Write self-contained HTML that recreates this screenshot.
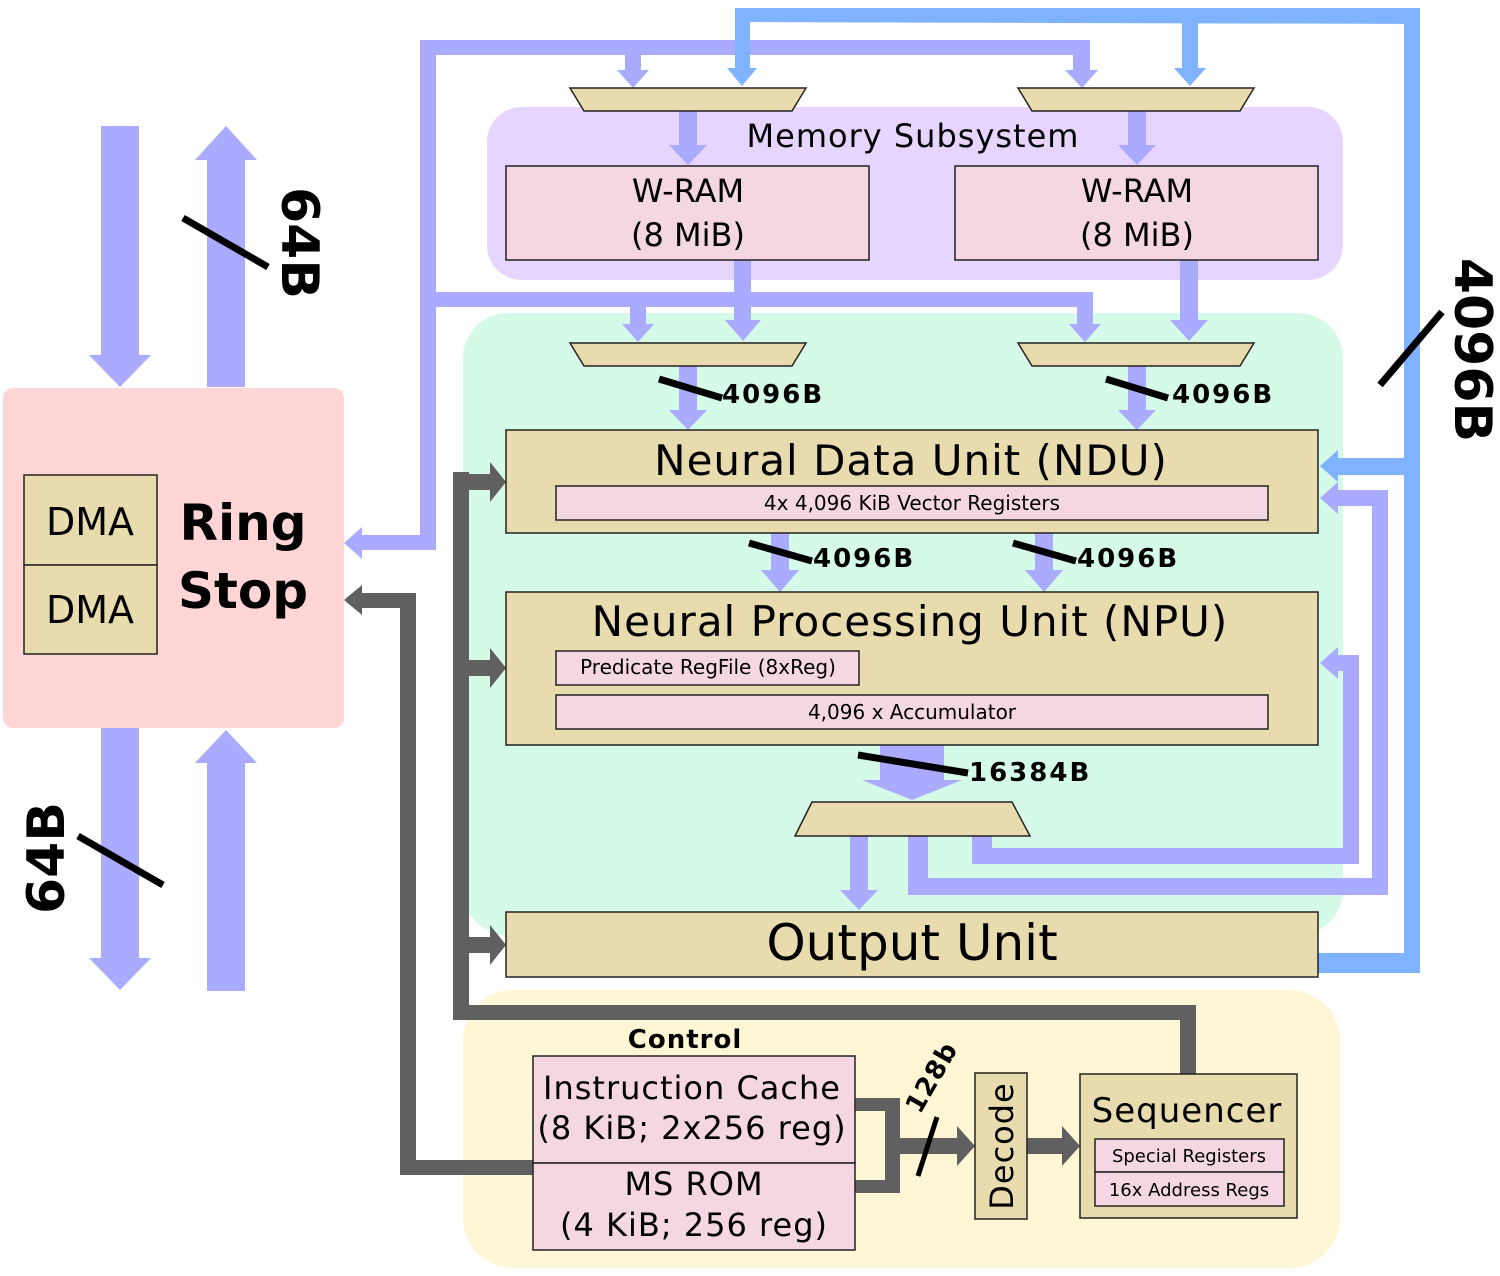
<!DOCTYPE html>
<html><head><meta charset="utf-8"><style>body{margin:0;background:#fff}svg{display:block}text{font-family:"DejaVu Sans","Liberation Sans",sans-serif}</style></head><body>
<svg width="1500" height="1276" viewBox="0 0 1500 1276" xmlns="http://www.w3.org/2000/svg">
<rect x="3" y="388" width="341" height="340" rx="10" fill="#ffd5d5"/>
<rect x="487" y="107" width="856" height="173" rx="35" fill="#e5d5ff"/>
<rect x="463" y="313" width="880" height="622" rx="45" fill="#d5fbe8"/>
<rect x="463" y="990" width="877" height="278" rx="50" fill="#fff6d5"/>

<g fill="#aaaaff">
<path d="M101 126h38v229h12l-31 32-31-32h12z"/>
<path d="M207 387v-227h-12l31-34 31 34h-12v227z"/>
<path d="M101 728h38v230h12l-31 32-31-32h12z"/>
<path d="M207 991v-228h-12l31-33 31 33h-12v228z"/>
<rect x="420" y="40" width="670" height="15"/>
<rect x="1073" y="40" width="17" height="30"/>
<rect x="420" y="40" width="16" height="510"/>
<rect x="362" y="535" width="74" height="15"/>
<path d="M362 527v32l-18-16z"/>
<path d="M625 55h16v15h8l-16 18-16-18h8z"/>
<path d="M1073 55h17v15h8l-16 18-17-18h8z"/>
<rect x="436" y="292" width="657" height="15"/>
<path d="M630 307h16v17h8l-16 18-16-18h8z"/>
<path d="M1077 307h16v17h8l-16 18-16-18h8z"/>
<path d="M679 111h18v34h10l-19 20-19-20h10z"/>
<path d="M1128 111h18v34h10l-19 20-19-20h10z"/>
<path d="M734 260h17v60h10l-18 21-18-21h9z"/>
<path d="M1180 260h18v60h10l-19 21-19-21h10z"/>
<path d="M679 366h18v44h10l-19 20-19-20h10z"/>
<path d="M1128 366h18v44h10l-19 20-19-20h10z"/>
<path d="M771 533h18v37h10l-19 22-19-22h10z"/>
<path d="M1035 533h18v37h10l-19 22-19-22h10z"/>
<path d="M880 745h64v35h18l-50 20-50-20h18z"/>
<path d="M850 836h18v54h10l-19 20-19-20h10z"/>
<path d="M908 836h20v42h444v-372h-35v-16h51v405h-480z"/>
<path d="M1338 482v32l-18-16z"/>
<path d="M972 836h20v12h351v-177h-5v-16h21v209h-387z"/>
<path d="M1338 647v32l-18-16z"/>
</g>

<g fill="#80b3ff">
<path d="M735 8h685v15z"/>
<path d="M735 8L1420 8L1420 24L735 22z"/>
<rect x="735" y="8" width="15" height="62"/>
<rect x="1404" y="8" width="16" height="965"/>
<rect x="1318" y="953" width="102" height="20"/>
<path d="M1182 20h16v48h8l-16 18-16-18h8z"/>
<path d="M727 68h30l-15 18z"/>
<rect x="1338" y="458" width="66" height="17"/>
<path d="M1338 450v32l-18-16z"/>
</g>

<g fill="#606060">
<rect x="453" y="472" width="16" height="548"/>
<path d="M453 1005h743v69h-16v-54h-727z"/>
<path d="M469 474h21v-12l16 20-16 20v-12h-21z"/>
<path d="M469 660h21v-12l16 20-16 20v-12h-21z"/>
<path d="M469 937h21v-12l16 20-16 20v-12h-21z"/>
<rect x="400" y="593" width="16" height="582"/>
<rect x="400" y="1160" width="133" height="15"/>
<rect x="362" y="593" width="54" height="15"/>
<path d="M362 585v30l-18-15z"/>
<path d="M855 1098h45v40h57v-12l18 20-18 20v-12h-57v39h-45v-13h30v-69h-30z"/>
<path d="M1027 1138h35v-12l18 20-18 20v-12h-35z"/>
</g>

<g stroke="#222" stroke-width="1.5">
<path d="M570 88h236l-14 23h-208z" fill="#e8dcaf"/>
<path d="M1018 88h236l-14 23h-208z" fill="#e8dcaf"/>
<path d="M570 343h236l-14 23h-208z" fill="#e8dcaf"/>
<path d="M1018 343h236l-14 23h-208z" fill="#e8dcaf"/>
<path d="M812 802h200l18 34h-235z" fill="#e8dcaf"/>
<rect x="24" y="475" width="133" height="90" fill="#e8dcaf"/>
<rect x="24" y="565" width="133" height="89" fill="#e8dcaf"/>
<rect x="506" y="166" width="363" height="94" fill="#f4d7e3"/>
<rect x="955" y="166" width="363" height="94" fill="#f4d7e3"/>
<rect x="506" y="430" width="812" height="103" fill="#e8dcaf"/>
<rect x="556" y="486" width="712" height="34" fill="#f4d7e3"/>
<rect x="506" y="592" width="812" height="153" fill="#e8dcaf"/>
<rect x="556" y="651" width="303" height="34" fill="#f4d7e3"/>
<rect x="556" y="695" width="712" height="34" fill="#f4d7e3"/>
<rect x="506" y="912" width="812" height="65" fill="#e8dcaf"/>
<rect x="533" y="1056" width="322" height="107" fill="#f4d7e3"/>
<rect x="533" y="1163" width="322" height="87" fill="#f4d7e3"/>
<rect x="975" y="1073" width="52" height="146" fill="#e8dcaf"/>
<rect x="1080" y="1074" width="217" height="144" fill="#e8dcaf"/>
<rect x="1095" y="1139" width="189" height="33" fill="#f4d7e3"/>
<rect x="1095" y="1172" width="189" height="34" fill="#f4d7e3"/>
</g>

<g stroke="#000" stroke-width="7">
<line x1="183" y1="218" x2="268" y2="267"/>
<line x1="78" y1="836" x2="163" y2="885"/>
<line x1="1380" y1="385" x2="1442" y2="312"/>
<line x1="659" y1="379" x2="722" y2="398"/>
<line x1="1106" y1="379" x2="1168" y2="398"/>
<line x1="749" y1="543" x2="812" y2="561"/>
<line x1="1013" y1="543" x2="1076" y2="561"/>
<line x1="858" y1="755" x2="968" y2="773"/>
<line x1="918" y1="1176" x2="937" y2="1117" stroke-width="5"/>
</g>

<g fill="#000">
<text x="90" y="535" font-size="38" text-anchor="middle">DMA</text>
<text x="90" y="623" font-size="38" text-anchor="middle">DMA</text>
<text x="243" y="540" font-size="50" font-weight="bold" text-anchor="middle">Ring</text>
<text x="243" y="608" font-size="50" font-weight="bold" text-anchor="middle">Stop</text>
<text transform="translate(282,243) rotate(90)" font-size="52" font-weight="bold" text-anchor="middle">64B</text>
<text transform="translate(64,858) rotate(-90)" font-size="52" font-weight="bold" text-anchor="middle">64B</text>
<text transform="translate(1455,350) rotate(90)" font-size="52" font-weight="bold" text-anchor="middle">4096B</text>
<text x="913" y="147" font-size="32" text-anchor="middle" letter-spacing="1">Memory Subsystem</text>
<text x="688" y="202" font-size="32" text-anchor="middle">W-RAM</text>
<text x="688" y="246" font-size="32" text-anchor="middle">(8 MiB)</text>
<text x="1137" y="202" font-size="32" text-anchor="middle">W-RAM</text>
<text x="1137" y="246" font-size="32" text-anchor="middle">(8 MiB)</text>
<g font-size="26" font-weight="bold" letter-spacing="2">
<text x="722" y="403">4096B</text>
<text x="1172" y="403">4096B</text>
<text x="813" y="567">4096B</text>
<text x="1077" y="567">4096B</text>
<text x="969" y="781">16384B</text>
</g>
<text x="911" y="475" font-size="42" text-anchor="middle" letter-spacing="1">Neural Data Unit (NDU)</text>
<text x="912" y="510" font-size="20" text-anchor="middle">4x 4,096 KiB Vector Registers</text>
<text x="910" y="636" font-size="42" text-anchor="middle" letter-spacing="1">Neural Processing Unit (NPU)</text>
<text x="708" y="674" font-size="20" text-anchor="middle">Predicate RegFile (8xReg)</text>
<text x="912" y="719" font-size="20" text-anchor="middle">4,096 x Accumulator</text>
<text x="912" y="960" font-size="50" text-anchor="middle">Output Unit</text>
<text x="685" y="1048" font-size="26" font-weight="bold" text-anchor="middle" letter-spacing="1">Control</text>
<text x="692" y="1099" font-size="32" text-anchor="middle" letter-spacing="1">Instruction Cache</text>
<text x="692" y="1139" font-size="32" text-anchor="middle" letter-spacing="1">(8 KiB; 2x256 reg)</text>
<text x="694" y="1195" font-size="32" text-anchor="middle" letter-spacing="1">MS ROM</text>
<text x="694" y="1236" font-size="32" text-anchor="middle" letter-spacing="1">(4 KiB; 256 reg)</text>
<text transform="translate(1013,1146) rotate(-90)" font-size="32" text-anchor="middle" letter-spacing="1">Decode</text>
<text x="1187" y="1122" font-size="34" text-anchor="middle" letter-spacing="1">Sequencer</text>
<text x="1189" y="1162" font-size="18" text-anchor="middle">Special Registers</text>
<text x="1189" y="1196" font-size="18" text-anchor="middle">16x Address Regs</text>
<text transform="translate(920,1115) rotate(-60)" font-size="26" font-weight="bold" letter-spacing="1">128b</text>
</g>
</svg>
</body></html>
